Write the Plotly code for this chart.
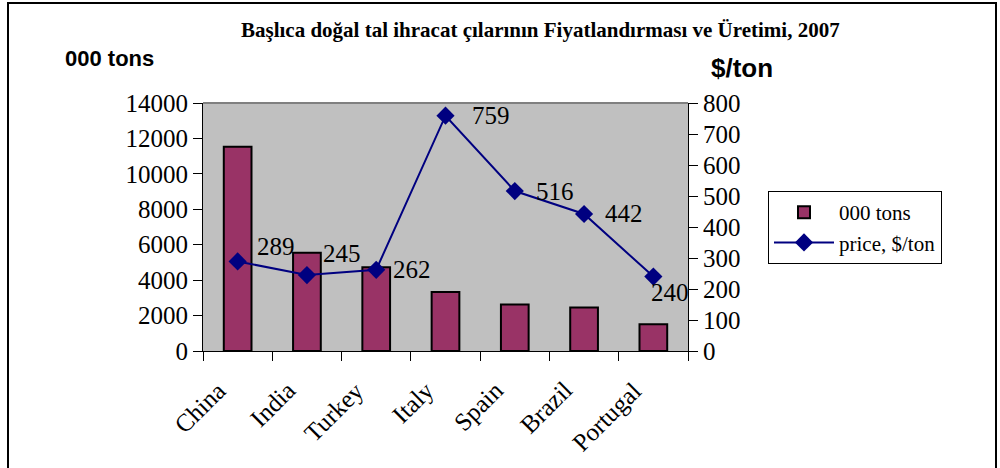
import plotly.graph_objects as go

countries = ["China", "India", "Turkey", "Italy", "Spain", "Brazil", "Portugal"]
tons = [11530, 5550, 4730, 3330, 2630, 2460, 1510]
price = [289, 245, 262, 759, 516, 442, 240]
left_ticks = [0, 2000, 4000, 6000, 8000, 10000, 12000, 14000]
right_ticks = [0, 100, 200, 300, 400, 500, 600, 700, 800]
# label offsets (pixels) relative to each price marker
label_dx = [17, 14, 15, 24, 19, 19, -4]
label_dy = [15, 22, 0, 0, 0, 0, -16]

W, H = 1000, 468
L, R, T, B = 203, 1000 - 688, 103, 468 - 351
pw, ph = W - L - R, H - T - B

TNR = "Liberation Serif, Times New Roman, serif"
ARIAL = "Liberation Sans, Arial, sans-serif"

fig = go.Figure()
fig.add_trace(go.Bar(
    x=countries, y=tons, name="000 tons",
    marker=dict(color="#993366", line=dict(color="black", width=2)),
    width=0.4, yaxis="y",
))
fig.add_trace(go.Scatter(
    x=countries, y=price, name="price, $/ton", yaxis="y2",
    mode="lines+markers",
    line=dict(color="#000080", width=2),
    marker=dict(symbol="diamond", size=14, color="#000080"),
    cliponaxis=False,
))

for c, p, dx, dy in zip(countries, price, label_dx, label_dy):
    fig.add_annotation(x=c, y=p, xref="x", yref="y2", text=str(p), showarrow=False,
                       xanchor="left", yanchor="middle", xshift=dx, yshift=dy,
                       font=dict(family=TNR, size=25, color="black"))


def px(x):
    return (x - L) / pw


def py(y):
    return (H - B - y) / ph


# category labels, rotated 45 degrees, ending just left of each category centre
for c in countries:
    fig.add_annotation(x=c, y=py(374), xref="x", yref="paper", text=c, showarrow=False,
                       textangle=-45, xanchor="right", yanchor="top", xshift=-4,
                       font=dict(family=TNR, size=25, color="black"))

fig.update_layout(
    width=W, height=H,
    margin=dict(l=L, r=R, t=T, b=B, autoexpand=False),
    paper_bgcolor="white", plot_bgcolor="#C0C0C0",
    showlegend=True,
    legend=dict(x=px(768), y=py(191), xanchor="left", yanchor="top",
                bordercolor="black", borderwidth=1, bgcolor="white",
                font=dict(family=TNR, size=21, color="black"),
                itemwidth=60, tracegroupgap=4),
    xaxis=dict(showticklabels=False,
               showline=True, linecolor="black", linewidth=1,
               ticks="outside", tickson="boundaries", ticklen=9, tickcolor="black",
               showgrid=False, range=[-0.5, 6.5]),
    yaxis=dict(range=[0, 14000], tickvals=left_ticks, ticktext=[str(v) for v in left_ticks],
               tickfont=dict(family=TNR, size=25, color="black"),
               showline=True, linecolor="black", linewidth=1, ticks="outside", ticklen=9,
               tickcolor="black", showgrid=False, zeroline=False),
    yaxis2=dict(range=[0, 800], tickvals=right_ticks, ticktext=[str(v) for v in right_ticks],
                overlaying="y", side="right",
                tickfont=dict(family=TNR, size=25, color="black"),
                showline=True, linecolor="black", linewidth=1, ticks="outside", ticklen=9,
                tickcolor="black", showgrid=False, zeroline=False),
    bargap=0.6,
)

fig.add_annotation(text="<b>Başlıca doğal tal ihracat çılarının Fiyatlandırması ve Üretimi, 2007</b>",
                   x=px(540), y=py(30), xref="paper", yref="paper", showarrow=False,
                   font=dict(family=TNR, size=21, color="black"), xanchor="center", yanchor="middle")
fig.add_annotation(text="<b>000 tons</b>", x=px(63), y=py(58), xref="paper", yref="paper",
                   showarrow=False, xanchor="left", yanchor="middle",
                   font=dict(family=ARIAL, size=22, color="black"))
fig.add_annotation(text="<b>$/ton</b>", x=px(709), y=py(68), xref="paper", yref="paper",
                   showarrow=False, xanchor="left", yanchor="middle",
                   font=dict(family=ARIAL, size=26, color="black"))
# grey top edge of the plot area
fig.add_shape(type="line", xref="paper", yref="paper", x0=0, x1=1, y0=1, y1=1,
              line=dict(color="#808080", width=2), layer="below")
fig.add_shape(type="rect", xref="paper", yref="paper", x0=px(8), x1=px(996), y0=py(480), y1=py(3),
              line=dict(color="black", width=2))

fig.write_html("out.html", config={"displayModeBar": False},
               post_script="document.body.style.margin='0';")
